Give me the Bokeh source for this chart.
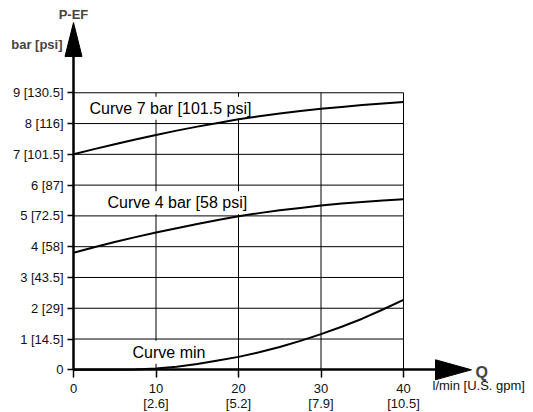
from bokeh.plotting import figure
from bokeh.models import Range1d, FixedTicker, Label
from bokeh.embed import file_html
from bokeh.resources import INLINE

# ---- data ----
flow_lpm = [0, 2.5, 5, 7.5, 10, 12.5, 15, 17.5, 20, 22.5, 25, 27.5, 30, 32.5, 35, 37.5, 40]
p_curve_7bar = [7.0, 7.17, 7.33, 7.48, 7.63, 7.77, 7.9, 8.02, 8.14, 8.24, 8.33, 8.41,
                8.48, 8.54, 8.6, 8.65, 8.7]
p_curve_4bar = [3.8, 3.98, 4.15, 4.31, 4.46, 4.6, 4.74, 4.87, 4.99, 5.09, 5.18, 5.26,
                5.34, 5.4, 5.45, 5.5, 5.54]
p_curve_min = [0.0, 0.0, 0.0, 0.01, 0.04, 0.1, 0.19, 0.3, 0.42, 0.57, 0.74, 0.94,
               1.16, 1.4, 1.66, 1.96, 2.27]

x_ticks = [0, 10, 20, 30, 40]
x_tick_labels = ["0", "10\n[2.6]", "20\n[5.2]", "30\n[7.9]", "40\n[10.5]"]
y_ticks = [0, 1, 2, 3, 4, 5, 6, 7, 8, 9]
y_tick_labels = ["0", "1 [14.5]", "2 [29]", "3 [43.5]", "4 [58]", "5 [72.5]",
                 "6 [87]", "7 [101.5]", "8 [116]", "9 [130.5]"]
curve_names = ["Curve 7 bar [101.5 psi]", "Curve 4 bar [58 psi]", "Curve min"]

FONT = "Liberation Sans"
W, H = 533, 412
X0PX, XS = 73.0, 8.25      # pixel of x=0, px per l/min
Y0PX, YS = 369.3, 30.78    # pixel of y=0, px per bar

p = figure(width=W, height=H, output_backend="svg", toolbar_location=None,
           x_range=Range1d(-X0PX / XS, (W - X0PX) / XS),
           y_range=Range1d(-(H - Y0PX) / YS, Y0PX / YS),
           min_border_left=0, min_border_right=0, min_border_top=0, min_border_bottom=0,
           outline_line_color=None)
p.xgrid.visible = False
p.ygrid.visible = False

# grid lines (limited extent)
gx = x_ticks[1:]
gy = y_ticks[1:]
p.segment(x0=[0] * len(gy), x1=[x_ticks[-1]] * len(gy), y0=gy, y1=gy,
          line_color="black", line_width=1)
p.segment(x0=gx, x1=gx, y0=[0] * len(gx), y1=[y_ticks[-1]] * len(gx),
          line_color="black", line_width=1)

# curves
for ys in (p_curve_7bar, p_curve_4bar, p_curve_min):
    r = p.line(flow_lpm, ys, line_color="black", line_width=2, line_join="round")
    r.level = "overlay"

# axes
xa = p.xaxis[0]
xa.fixed_location = 0
xa.bounds = (0, 44.5)
xa.ticker = FixedTicker(ticks=x_ticks)
xa.major_label_overrides = dict(zip(x_ticks, x_tick_labels))
ya = p.yaxis[0]
ya.fixed_location = 0
ya.bounds = (0, 10.5)
ya.ticker = FixedTicker(ticks=y_ticks)
ya.major_label_overrides = dict(zip(y_ticks, y_tick_labels))
for ax in (xa, ya):
    ax.axis_line_width = 2.5
    ax.axis_line_color = "black"
    ax.major_tick_in = 0
    ax.major_tick_line_width = 1.5
    ax.major_tick_line_color = "black"
    ax.minor_tick_line_color = None
    ax.major_label_text_font = FONT
    ax.major_label_text_font_size = "13px"
    ax.major_label_text_color = "#111111"
xa.major_tick_out = 8
xa.major_label_standoff = 3
xa.major_label_text_line_height = 1.0
ya.major_tick_out = 6
ya.major_label_standoff = 4

# arrow heads
p.patch(x=[-1.03, 0, 1.03], y=[10.18, 11.28, 10.18], color="black")
p.patch(x=[43.88, 48.24, 43.88], y=[0.325, 0, -0.325], color="black")

# curve labels (white box masks the grid behind them)
for name, lx, ly in zip(curve_names, [1.58, 3.76, 6.79], [8.50, 5.43, 0.57]):
    p.add_layout(Label(x=lx, y=ly, text=name, text_font=FONT, text_font_size="16px",
                       text_color="black", text_baseline="alphabetic",
                       background_fill_color="white", background_fill_alpha=1.0,
                       border_line_color=None, padding=3))

# axis titles
p.add_layout(Label(x=0, y=(Y0PX - 14) / YS, text="P-EF", text_font=FONT,
                   text_font_size="13px", text_font_style="bold",
                   text_align="center", text_baseline="alphabetic"))
p.add_layout(Label(x=-11 / XS, y=(Y0PX - 44) / YS, text="bar [psi]", text_font=FONT,
                   text_font_size="13px", text_font_style="bold",
                   text_align="right", text_baseline="alphabetic"))
p.add_layout(Label(x=(475 - X0PX) / XS, y=(Y0PX - 372) / YS, text="Q", text_font=FONT,
                   text_font_size="16px", text_font_style="bold",
                   text_baseline="alphabetic"))
p.add_layout(Label(x=(432 - X0PX) / XS, y=(Y0PX - 385) / YS, text="l/min [U.S. gpm]",
                   text_font=FONT, text_font_size="13px", text_color="#111111",
                   text_baseline="alphabetic"))

open("out.html", "w").write(file_html(p, INLINE))
